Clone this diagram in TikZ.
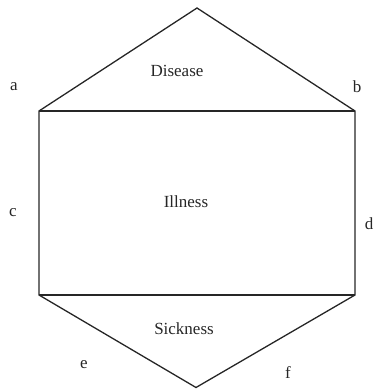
\documentclass[tikz,border=0pt]{standalone}
\usepackage{fontspec}
\setmainfont{Liberation Serif}
\begin{document}
\begin{tikzpicture}[x=1pt,y=1pt,
  edge/.style={line width=1.3pt, draw=black!85, line join=miter},
  lbl/.style={font=\fontsize{17}{20}\selectfont, inner sep=0pt, text=black!85}]
\useasboundingbox (0,0) rectangle (373,389);
% corner points of the hexagon (y measured upward)
\coordinate (top) at (197,381);
\coordinate (tl) at (39,278);
\coordinate (tr) at (355,278);
\coordinate (bl) at (39,94);
\coordinate (br) at (355,94);
\coordinate (bot) at (196,1.5);
% outline and the two cross lines
\draw[edge] (tl) -- (top) -- (tr) -- (br) -- (bot) -- (bl) -- cycle;
\draw[edge] (tl) -- (tr);
\draw[edge] (bl) -- (br);
% region labels
\node[lbl] (disease) at (177,318) {Disease};
\node[lbl] (illness) at (186,187) {Illness};
\node[lbl] (sickness) at (184,60) {Sickness};
% corner letters
\node[lbl] (la) at (14,302) {a};
\node[lbl] (lb) at (357,302) {b};
\node[lbl] (lc) at (13,176) {c};
\node[lbl] (ld) at (369,165) {d};
\node[lbl] (le) at (84,24) {e};
\node[lbl] (lf) at (288,16) {f};
\end{tikzpicture}
\end{document}
